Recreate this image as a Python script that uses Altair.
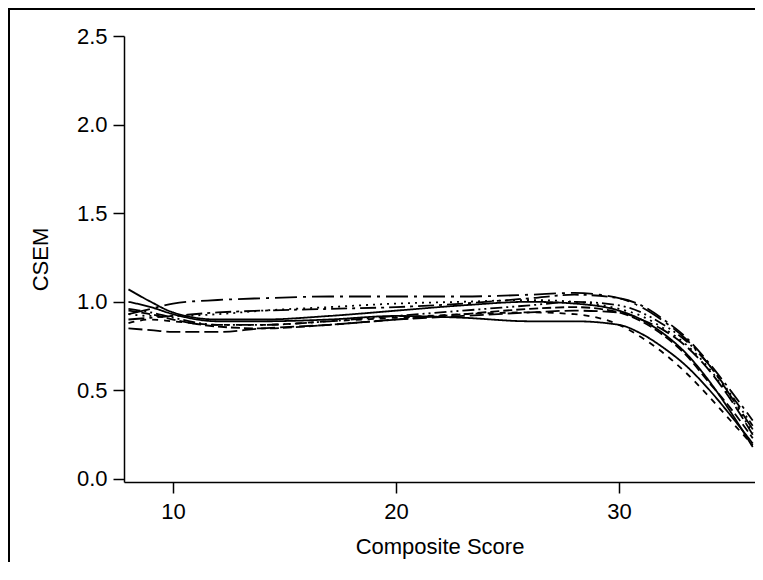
import altair as alt
import pandas as pd

# Composite score grid
scores = [8, 9, 10, 12, 14, 17, 20, 23, 26, 28, 30, 31, 32, 33, 34, 35, 36]

# CSEM curves
form_a = [1.00, 0.97, 0.93, 0.89, 0.89, 0.90, 0.92, 0.91, 0.89, 0.89, 0.87, 0.82, 0.74, 0.64, 0.51, 0.36, 0.20]
form_b = [1.07, 1.00, 0.94, 0.90, 0.90, 0.92, 0.95, 0.98, 1.00, 0.99, 0.95, 0.90, 0.82, 0.71, 0.56, 0.38, 0.18]
form_c = [0.93, 0.96, 0.99, 1.01, 1.02, 1.03, 1.03, 1.03, 1.04, 1.05, 1.02, 0.97, 0.89, 0.79, 0.65, 0.47, 0.28]
form_d = [0.85, 0.84, 0.83, 0.83, 0.85, 0.87, 0.90, 0.92, 0.94, 0.95, 0.94, 0.90, 0.84, 0.75, 0.62, 0.45, 0.25]
form_e = [0.88, 0.90, 0.89, 0.87, 0.87, 0.89, 0.91, 0.93, 0.94, 0.93, 0.87, 0.80, 0.71, 0.60, 0.47, 0.33, 0.19]
form_f = [0.93, 0.92, 0.92, 0.93, 0.95, 0.97, 0.99, 1.00, 1.01, 1.00, 0.96, 0.92, 0.85, 0.76, 0.63, 0.46, 0.26]
form_g = [0.96, 0.94, 0.91, 0.87, 0.87, 0.89, 0.92, 0.95, 0.98, 1.00, 0.98, 0.94, 0.87, 0.78, 0.65, 0.48, 0.30]
form_h = [0.95, 0.93, 0.90, 0.86, 0.85, 0.87, 0.90, 0.93, 0.96, 0.97, 0.94, 0.89, 0.81, 0.70, 0.55, 0.40, 0.23]
form_i = [0.90, 0.91, 0.92, 0.94, 0.95, 0.96, 0.97, 0.99, 1.02, 1.04, 1.02, 0.98, 0.90, 0.80, 0.66, 0.50, 0.33]

series_names = ["A", "B", "C", "D", "E", "F", "G", "H", "I"]
series_values = [form_a, form_b, form_c, form_d, form_e, form_f, form_g, form_h, form_i]
dash_styles = [[1, 0], [1, 0], [22, 6, 3, 6], [14, 5], [6, 6], [2, 5], [12, 4, 2, 4, 2, 4], [9, 4], [16, 5, 3, 5]]

x_ticks = [10, 20, 30]
y_ticks = [0.0, 0.5, 1.0, 1.5, 2.0, 2.5]

rows = []
for name, vals in zip(series_names, series_values):
    for s, v in zip(scores, vals):
        rows.append({"series": name, "score": s, "csem": v})
df = pd.DataFrame(rows)

W, H = 631, 446
PAD_L, PAD_T, PAD_B = 116, 28, 80

lines = alt.Chart(df).mark_line(color="black", strokeWidth=1.8, interpolate="monotone").encode(
    x=alt.X("score:Q", scale=alt.Scale(domain=[7.8, 36.1], nice=False, zero=False),
            axis=alt.Axis(values=x_ticks, title="Composite Score", format="d")),
    y=alt.Y("csem:Q", scale=alt.Scale(domain=[-0.017, 2.5], nice=False, zero=False),
            axis=alt.Axis(values=y_ticks, title="CSEM", format=".1f")),
    strokeDash=alt.StrokeDash("series:N", scale=alt.Scale(domain=series_names, range=dash_styles), legend=None),
    detail="series:N",
)

# outer frame: only its top and left edges fall inside the picture
frame_df = pd.DataFrame({"k": [0]})
frame = alt.Chart(frame_df).mark_rect(fill="transparent", stroke="black", strokeWidth=2).encode(
    x=alt.value(-PAD_L + 1), x2=alt.value(W + 60),
    y=alt.value(-PAD_T + 1), y2=alt.value(H + PAD_B + 60),
)

chart = alt.layer(lines, frame).properties(
    width=W, height=H,
    autosize=alt.AutoSizeParams(type="none"),
    padding={"left": PAD_L, "top": PAD_T, "right": 0, "bottom": PAD_B},
).configure_view(stroke=None).configure_axis(
    grid=False,
    domainColor="black", domainWidth=1.5,
    tickColor="black", tickWidth=1.5, tickSize=11,
    labelColor="black", labelFont="Liberation Sans", labelFontSize=22, labelPadding=6,
    titleColor="black", titleFont="Liberation Sans", titleFontSize=22, titleFontWeight="normal",
).configure_axisX(titlePadding=14, labelPadding=8).configure_axisY(titlePadding=24)

chart.save("out.html", embed_options={"renderer": "svg", "actions": False})
